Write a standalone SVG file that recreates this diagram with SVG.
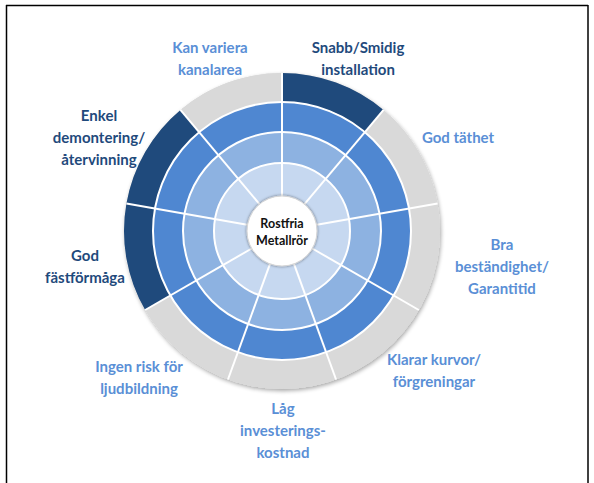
<svg xmlns="http://www.w3.org/2000/svg" width="594" height="483" viewBox="0 0 594 483">
<style>
.lbl{font-family:Lato,"Open Sans","Liberation Sans",sans-serif;font-weight:bold;font-size:15px;text-anchor:middle}
.lt{fill:#5a8fd6}
.dk{fill:#1f4a7c}
.ctr{font-family:Lato,"Open Sans","Liberation Sans",sans-serif;font-weight:bold;font-size:12.5px;text-anchor:middle;fill:#111}
.gray{fill:#d9d9d9}
.dark{fill:#1f4a7c}
.sp{stroke:#fff;stroke-width:2;fill:none}
</style>
<defs>
<filter id="sh" x="-10%" y="-10%" width="125%" height="125%">
<feGaussianBlur in="SourceAlpha" stdDeviation="2"/>
<feOffset dx="1" dy="2"/>
<feComponentTransfer><feFuncA type="linear" slope="0.35"/></feComponentTransfer>
<feMerge><feMergeNode/><feMergeNode in="SourceGraphic"/></feMerge>
</filter>
<filter id="csh" x="-30%" y="-30%" width="160%" height="160%">
<feGaussianBlur in="SourceAlpha" stdDeviation="1.5"/>
<feComponentTransfer><feFuncA type="linear" slope="0.5"/></feComponentTransfer>
<feMerge><feMergeNode/><feMergeNode in="SourceGraphic"/></feMerge>
</filter>
</defs>
<rect x="0" y="0" width="594" height="483" fill="#fff"/>
<g id="frame" stroke="#000" stroke-width="1.5" fill="none">
<line x1="6" y1="5.5" x2="588" y2="5.5"/>
<line x1="6.5" y1="5" x2="6.5" y2="483"/>
<line x1="588" y1="5" x2="588" y2="483"/>
</g>
<g id="disk">
<circle cx="282" cy="231" r="158" fill="#d9d9d9" filter="url(#sh)"/>
</g>
<g id="seg-snabb"><path class="dark" d="M282,73 A158,158 0 0 1 383.56,109.97 L364.92,132.19 A129,129 0 0 0 282,102 Z"/></g>
<g id="seg-tathet"><path class="gray" d="M383.56,109.97 A158,158 0 0 1 437.60,203.57 L409.04,208.61 A129,129 0 0 0 364.92,132.19 Z"/></g>
<g id="seg-bestandighet"><path class="gray" d="M437.60,203.57 A158,158 0 0 1 418.83,310 L393.71,295.5 A129,129 0 0 0 409.04,208.61 Z"/></g>
<g id="seg-kurvor"><path class="gray" d="M418.83,310 A158,158 0 0 1 336.04,379.47 L326.12,352.22 A129,129 0 0 0 393.71,295.5 Z"/></g>
<g id="seg-lag"><path class="gray" d="M336.04,379.47 A158,158 0 0 1 227.96,379.47 L237.88,352.22 A129,129 0 0 0 326.12,352.22 Z"/></g>
<g id="seg-ljud"><path class="gray" d="M227.96,379.47 A158,158 0 0 1 145.17,310 L170.29,295.5 A129,129 0 0 0 237.88,352.22 Z"/></g>
<g id="seg-fast"><path class="dark" d="M145.17,310 A158,158 0 0 1 126.40,203.57 L154.96,208.61 A129,129 0 0 0 170.29,295.5 Z"/></g>
<g id="seg-enkel"><path class="dark" d="M126.40,203.57 A158,158 0 0 1 180.44,109.97 L199.08,132.19 A129,129 0 0 0 154.96,208.61 Z"/></g>
<g id="seg-kanal"><path class="gray" d="M180.44,109.97 A158,158 0 0 1 282,73 L282,102 A129,129 0 0 0 199.08,132.19 Z"/></g>
<g id="rings">
<circle cx="282" cy="231" r="129" fill="#4f87d1" stroke="#fff" stroke-width="2"/>
<circle cx="282" cy="231" r="99" fill="#8db2e1" stroke="#fff" stroke-width="2"/>
<circle cx="282" cy="231" r="68" fill="#c6d8f0" stroke="#fff" stroke-width="2"/>
</g>
<g id="connectors" class="sp">
<line x1="282" y1="197" x2="282" y2="73"/>
<line x1="303.86" y1="204.96" x2="383.56" y2="109.97"/>
<line x1="315.48" y1="225.10" x2="437.60" y2="203.57"/>
<line x1="311.44" y1="248" x2="418.83" y2="310"/>
<line x1="293.63" y1="262.95" x2="336.04" y2="379.47"/>
<line x1="270.37" y1="262.95" x2="227.96" y2="379.47"/>
<line x1="252.56" y1="248" x2="145.17" y2="310"/>
<line x1="248.52" y1="225.10" x2="126.40" y2="203.57"/>
<line x1="260.14" y1="204.96" x2="180.44" y2="109.97"/>
</g>
<g id="center">
<circle cx="282" cy="231" r="35" fill="#fff" stroke="#d6d6d6" stroke-width="1" filter="url(#csh)"/>
<text class="ctr" x="282" y="228">Rostfria</text>
<text class="ctr" x="282" y="245">Metallrör</text>
</g>
<g id="labels">
<g id="lbl-kanal"><text class="lbl lt" x="210" y="53">Kan variera</text><text class="lbl lt" x="210" y="75">kanalarea</text></g>
<g id="lbl-snabb"><text class="lbl dk" x="358" y="53">Snabb/Smidig</text><text class="lbl dk" x="358" y="75">installation</text></g>
<g id="lbl-tathet"><text class="lbl lt" x="458" y="143">God täthet</text></g>
<g id="lbl-bestandighet"><text class="lbl lt" x="502" y="250">Bra</text><text class="lbl lt" x="502" y="272">beständighet/</text><text class="lbl lt" x="502" y="294">Garantitid</text></g>
<g id="lbl-kurvor"><text class="lbl lt" x="434" y="365">Klarar kurvor/</text><text class="lbl lt" x="434" y="387">förgreningar</text></g>
<g id="lbl-lag"><text class="lbl lt" x="283" y="414">Låg</text><text class="lbl lt" x="283" y="436">investerings-</text><text class="lbl lt" x="283" y="458">kostnad</text></g>
<g id="lbl-ljud"><text class="lbl lt" x="139" y="372">Ingen risk för</text><text class="lbl lt" x="139" y="394">ljudbildning</text></g>
<g id="lbl-fast"><text class="lbl dk" x="85" y="261">God</text><text class="lbl dk" x="85" y="283">fästförmåga</text></g>
<g id="lbl-enkel"><text class="lbl dk" x="99" y="121">Enkel</text><text class="lbl dk" x="99" y="143">demontering/</text><text class="lbl dk" x="99" y="165">återvinning</text></g>
</g>
</svg>
